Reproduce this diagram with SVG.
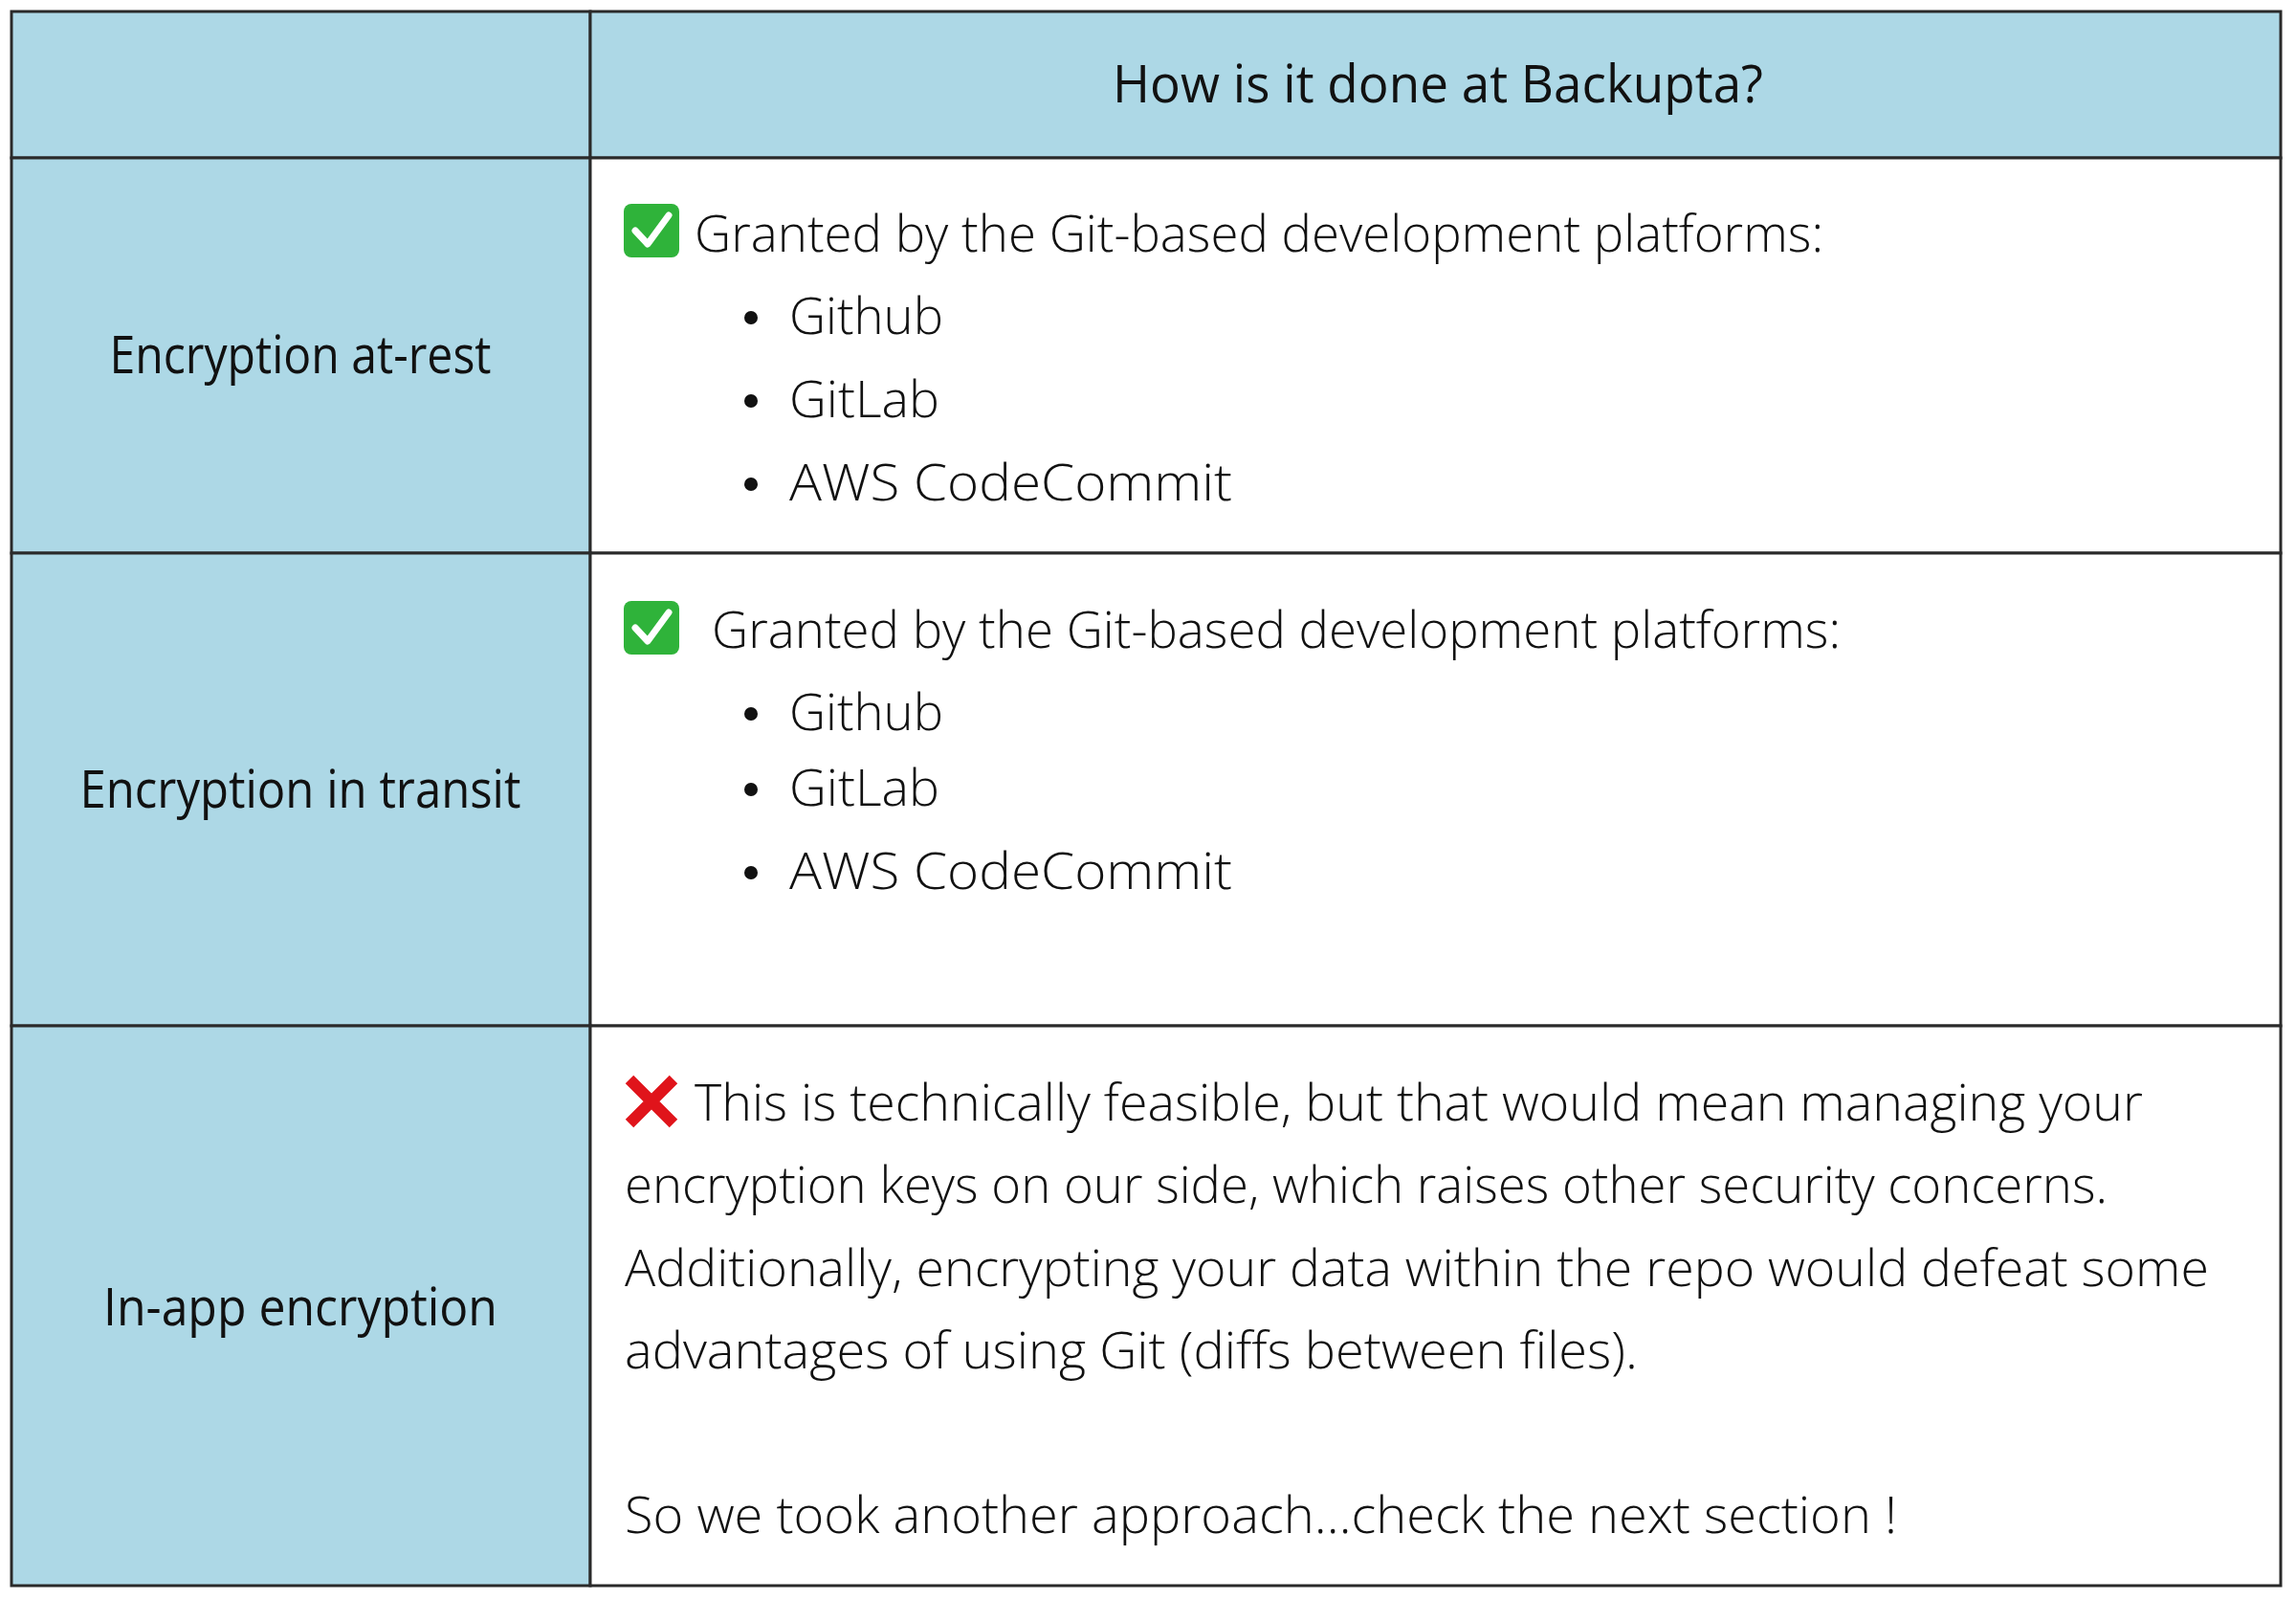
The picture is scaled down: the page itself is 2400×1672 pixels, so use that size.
<svg xmlns="http://www.w3.org/2000/svg" width="2400" height="1672" viewBox="0 0 2400 1672">
<style>
.c{fill:#add8e6;stroke:#2a2a2a;stroke-width:3}
.w{fill:#fff;stroke:#2a2a2a;stroke-width:3}
text{font-family:"Open Sans","Liberation Sans",sans-serif;font-size:54px;fill:#111;font-weight:300}
.m{text-anchor:middle;font-weight:400}
</style>
<defs>
<g id="chk"><rect x="0" y="0" width="58" height="56" rx="8" fill="#2fb33a"/><path d="M12 28 L25 42 L47 12" fill="none" stroke="#fff" stroke-width="7" stroke-linecap="round" stroke-linejoin="round"/></g>
<g id="x"><path d="M6 6 L52 52 M52 6 L6 52" stroke="#e0141b" stroke-width="12"/></g>
</defs>
<rect width="2400" height="1672" fill="#fff"/>
<g id="header">
<rect class="c" x="12" y="12" width="605" height="153"/>
<rect class="c" x="617" y="12" width="1767" height="153"/>
<text class="m" x="1503" y="107" textLength="680" lengthAdjust="spacingAndGlyphs">How is it done at Backupta?</text>
</g>
<g id="row1">
<rect class="c" x="12" y="165" width="605" height="413"/>
<rect class="w" x="617" y="165" width="1767" height="413"/>
<text class="m" x="314" y="390" textLength="399" lengthAdjust="spacingAndGlyphs">Encryption at-rest</text>
<use href="#chk" x="652" y="213"/>
<text x="726" y="263" textLength="1180" lengthAdjust="spacingAndGlyphs">Granted by the Git-based development platforms:</text>
<circle cx="785" cy="332" r="7" fill="#111"/><text x="825" y="349" textLength="161" lengthAdjust="spacingAndGlyphs">Github</text>
<circle cx="785" cy="419" r="7" fill="#111"/><text x="825" y="436" textLength="157" lengthAdjust="spacingAndGlyphs">GitLab</text>
<circle cx="785" cy="506" r="7" fill="#111"/><text x="825" y="523" textLength="463" lengthAdjust="spacingAndGlyphs">AWS CodeCommit</text>
</g>
<g id="row2">
<rect class="c" x="12" y="578" width="605" height="494"/>
<rect class="w" x="617" y="578" width="1767" height="494"/>
<text class="m" x="314" y="844" textLength="461" lengthAdjust="spacingAndGlyphs">Encryption in transit</text>
<use href="#chk" x="652" y="628"/>
<text x="744" y="677" textLength="1180" lengthAdjust="spacingAndGlyphs">Granted by the Git-based development platforms:</text>
<circle cx="785" cy="746" r="7" fill="#111"/><text x="825" y="763" textLength="161" lengthAdjust="spacingAndGlyphs">Github</text>
<circle cx="785" cy="825" r="7" fill="#111"/><text x="825" y="842" textLength="157" lengthAdjust="spacingAndGlyphs">GitLab</text>
<circle cx="785" cy="912" r="7" fill="#111"/><text x="825" y="929" textLength="463" lengthAdjust="spacingAndGlyphs">AWS CodeCommit</text>
</g>
<g id="row3">
<rect class="c" x="12" y="1072" width="605" height="585"/>
<rect class="w" x="617" y="1072" width="1767" height="585"/>
<text class="m" x="314" y="1385" textLength="412" lengthAdjust="spacingAndGlyphs">In-app encryption</text>
<use href="#x" x="652" y="1122"/>
<text x="726" y="1171" textLength="1514" lengthAdjust="spacingAndGlyphs">This is technically feasible, but that would mean managing your</text>
<text x="653" y="1257" textLength="1550" lengthAdjust="spacingAndGlyphs">encryption keys on our side, which raises other security concerns.</text>
<text x="653" y="1344" textLength="1656" lengthAdjust="spacingAndGlyphs">Additionally, encrypting your data within the repo would defeat some</text>
<text x="653" y="1430" textLength="1059" lengthAdjust="spacingAndGlyphs">advantages of using Git (diffs between files).</text>
<text x="653" y="1602" textLength="1330" lengthAdjust="spacingAndGlyphs">So we took another approach…check the next section !</text>
</g>
</svg>
